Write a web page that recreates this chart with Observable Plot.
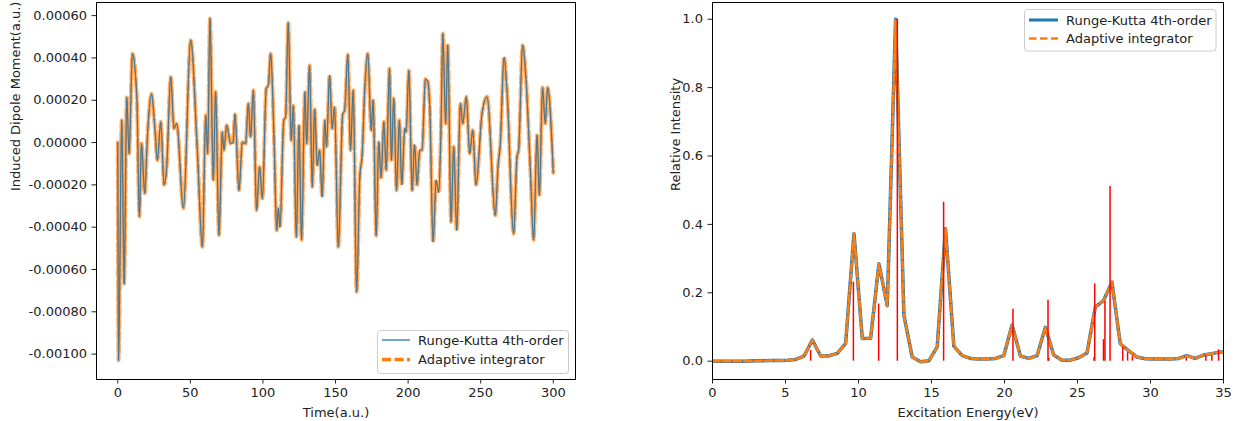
<!DOCTYPE html>
<html>
<head>
<meta charset="utf-8">
<script src="https://cdn.jsdelivr.net/npm/d3@7"></script>
<script src="https://cdn.jsdelivr.net/npm/@observablehq/plot@0.6"></script>
<style>
  body { margin: 0; background: #fff; }
  #wrap { position: relative; width: 1239px; height: 421px; font-family: "DejaVu Sans", sans-serif; overflow: hidden; }
  #left { position: absolute; left: 0; top: 0; }
  #right { position: absolute; left: 620px; top: 0; }
  #overlay { position: absolute; left: 0; top: 0; pointer-events: none; }
</style>
</head>
<body>
<div id="wrap">
  <div id="left"></div>
  <div id="right"></div>
  <svg id="overlay" width="1239" height="421" font-family="DejaVu Sans" font-size="13px">
    <rect x="377.5" y="330.5" width="191" height="43" rx="3" fill="#fff" fill-opacity="0.8" stroke="#ccc"/>
    <line x1="382" x2="410" y1="340" y2="340" stroke="#1f77b4" stroke-width="1.3"/>
    <line x1="382" x2="410" y1="359.5" y2="359.5" stroke="#ff7f0e" stroke-width="3.5" stroke-dasharray="9,3.5"/>
    <text x="418" y="340" dominant-baseline="central" fill="#222">Runge-Kutta 4th-order</text>
    <text x="418" y="359.5" dominant-baseline="central" fill="#222">Adaptive integrator</text>

    <rect x="1024.5" y="9.5" width="191.5" height="41.5" rx="3" fill="#fff" fill-opacity="0.8" stroke="#ccc"/>
    <line x1="1029" x2="1058" y1="20" y2="20" stroke="#1f77b4" stroke-width="3"/>
    <line x1="1029" x2="1058" y1="38.5" y2="38.5" stroke="#ff7f0e" stroke-width="2.5" stroke-dasharray="7.5,3.5"/>
    <text x="1066" y="20" dominant-baseline="central" fill="#222">Runge-Kutta 4th-order</text>
    <text x="1066" y="38.5" dominant-baseline="central" fill="#222">Adaptive integrator</text>
  </svg>
</div>
<script>
// ---------- Left panel: induced dipole moment vs time ----------
const timeAU = [0, 0.5, 2.75, 4.4, 6.2, 7.8, 10.1, 13.1, 14.9, 16.3, 18.6, 20.4, 23.2, 25.5, 27.3, 29.6, 31.9, 33.7, 36.5, 38.7, 40.6, 45.2, 50.2, 54.8, 58.3, 60.6, 61.9, 63.5, 65.8, 67.4, 69.7, 72.0, 73.1, 75.0, 77.8, 79.4, 80.7, 83.5, 85.8, 88.1, 89.9, 91.5, 93.4, 95.6, 97.7, 99.6, 102.3, 103.7, 105.3, 107.6, 109.5, 110.6, 111.7, 114.4, 115.6, 117.4, 119.5, 120.9, 123.0, 124.8, 126.6, 128.9, 130.1, 132.1, 134.0, 135.6, 137.4, 139.0, 140.8, 142.6, 143.8, 145.9, 147.7, 149.3, 151.9, 155.0, 156.2, 158.5, 160.3, 162.2, 164.5, 166.7, 168.4, 170.0, 172.2, 174.6, 175.9, 178.0, 179.8, 181.4, 183.3, 184.9, 187.2, 188.5, 190.1, 192.0, 194.0, 195.6, 197.7, 198.6, 200.5, 202.8, 204.4, 206.2, 208.0, 209.6, 211.9, 213.5, 214.9, 217.2, 219.3, 221.1, 222.7, 223.9, 225.9, 227.3, 229.6, 231.4, 233.5, 236.0, 237.6, 240.1, 242.4, 244.5, 246.8, 250.9, 254.4, 260.1, 261.9, 263.5, 266.1, 268.1, 272.7, 275.0, 276.1, 278.9, 281.2, 284.2, 286.5, 288.8, 290.4, 292.6, 294.5, 296.1, 300.0];
const dipoleRK4 = [0, -10.3e-4, 1.05e-4, -6.67e-4, 2.13e-4, -0.52e-4, 4.2e-4, 2.16e-4, -3.5e-4, -0.05e-4, -2.4e-4, 0.27e-4, 2.3e-4, 0.74e-4, -0.84e-4, 0.98e-4, -2.0e-4, -1.15e-4, 3.1e-4, 0.66e-4, 0.9e-4, -3.1e-4, 4.84e-4, -0.36e-4, -4.93e-4, 1.29e-4, -0.52e-4, 5.86e-4, -1.78e-4, 2.4e-4, -4.38e-4, 0.5e-4, -0.36e-4, 0.82e-4, -0.05e-4, 0, 1.34e-4, -2.26e-4, 0.02e-4, -0.05e-4, 1.84e-4, 0.27e-4, 2.47e-4, -3.2e-4, -1.15e-4, -2.65e-4, 2.55e-4, 2.7e-4, 4.2e-4, 0.27e-4, -4.15e-4, -3.1e-4, -4.0e-4, 1.07e-4, 1.2e-4, 5.66e-4, 0.1e-4, 1.74e-4, -4.46e-4, 0.82e-4, -4.6e-4, 2.4e-4, -0.05e-4, 3.65e-4, -2.1e-4, 1.58e-4, -1.1e-4, -0.36e-4, -2.57e-4, 1.05e-4, -0.2e-4, 3.18e-4, 0.66e-4, 1.69e-4, -4.93e-4, 1.36e-4, 1.5e-4, 4.15e-4, -0.36e-4, 2.47e-4, -7.06e-4, -1.67e-4, -0.52e-4, 2.3e-4, 4.2e-4, 0.58e-4, 2.0e-4, -4.4e-4, 0.02e-4, -1.67e-4, 0.98e-4, -1.3e-4, 3.5e-4, -0.84e-4, 2.08e-4, -2.26e-4, 1.05e-4, -2.0e-4, 0.66e-4, 0.5e-4, 3.4e-4, -2.26e-4, -0.1e-4, -2.0e-4, -0.36e-4, -0.36e-4, 3.0e-4, 2.9e-4, 1.7e-4, -4.7e-4, -1.78e-4, -2.35e-4, 0.9e-4, 5.15e-4, 0.9e-4, 4.6e-4, -3.75e-4, -0.2e-4, -4.15e-4, 1.84e-4, 0.9e-4, 2.16e-4, -0.52e-4, 0.58e-4, -2.0e-4, 1.36e-4, 2.16e-4, -3.44e-4, -1.15e-4, -0.05e-4, 4.03e-4, 2.47e-4, -4.3e-4, -0.68e-4, -0.36e-4, 4.6e-4, 3.0e-4, -1.3e-4, -4.6e-4, 0.35e-4, -2.5e-4, 2.6e-4, 0.9e-4, 2.6e-4, -1.43e-4];
const dipoleAdaptive = dipoleRK4.slice(); // the two integrators overlap at this scale
const timeTicks = [0, 50, 100, 150, 200, 250, 300];
const dipoleTicks = [-0.001, -0.0008, -0.0006, -0.0004, -0.0002, 0, 0.0002, 0.0004, 0.0006];

// ---------- Right panel: absorption spectrum ----------
const energyEV = [0.00, 0.57, 1.14, 1.71, 2.28, 2.85, 3.42, 3.99, 4.56, 5.13, 5.70, 6.27, 6.84, 7.41, 7.98, 8.55, 9.12, 9.69, 10.26, 10.83, 11.40, 11.97, 12.54, 13.11, 13.68, 14.25, 14.82, 15.39, 15.96, 16.53, 17.10, 17.67, 18.24, 18.81, 19.38, 19.95, 20.52, 21.09, 21.66, 22.23, 22.80, 23.37, 23.94, 24.51, 25.08, 25.65, 26.22, 26.79, 27.36, 27.93, 28.50, 29.07, 29.64, 30.21, 30.78, 31.35, 31.92, 32.49, 33.06, 33.63, 34.20, 34.77, 35.34];
const intensityRK4 = [0.000, 0.000, 0.000, 0.000, 0.000, 0.001, 0.001, 0.002, 0.002, 0.003, 0.005, 0.015, 0.062, 0.015, 0.016, 0.023, 0.052, 0.373, 0.066, 0.067, 0.285, 0.162, 1.000, 0.134, 0.012, -0.002, 0.001, 0.042, 0.387, 0.044, 0.016, 0.008, 0.006, 0.006, 0.008, 0.016, 0.106, 0.015, 0.008, 0.016, 0.099, 0.018, 0.003, 0.003, 0.010, 0.024, 0.158, 0.178, 0.231, 0.051, 0.031, 0.012, 0.007, 0.006, 0.006, 0.006, 0.008, 0.016, 0.008, 0.018, 0.022, 0.027, 0.027];
const intensityAdaptive = intensityRK4.slice();
const stickEnergy = [6.72, 9.65, 11.38, 12.66, 15.83, 20.58, 22.98, 23.03, 26.13, 26.18, 26.78, 26.88, 27.23, 28.10, 28.43, 28.76, 32.45, 33.79, 34.20, 34.66];
const stickIntensity = [0.031, 0.231, 0.167, 1.0, 0.465, 0.152, 0.178, 0.008, 0.01, 0.226, 0.063, 0.175, 0.511, 0.041, 0.025, 0.013, 0.008, 0.016, 0.016, 0.033];
const energyTicks = [0, 5, 10, 15, 20, 25, 30, 35];
const intensityTicks = [0, 0.2, 0.4, 0.6, 0.8, 1.0];

// ---------- build tables ----------
const dipole = timeAU.map((t, i) => ({t, rk: dipoleRK4[i], ad: dipoleAdaptive[i]}));
const spectrum = energyEV.map((e, i) => ({e, rk: intensityRK4[i], ad: intensityAdaptive[i]}));
const sticks = stickEnergy.map((e, i) => ({e, v: stickIntensity[i]}));

const baseStyle = {fontFamily: "DejaVu Sans", fontSize: "13px", color: "#222", background: "transparent", overflow: "visible"};

const left = Plot.plot({
  width: 620, height: 421,
  marginLeft: 96, marginRight: 45, marginTop: 2, marginBottom: 42,
  style: baseStyle,
  x: {domain: [-14.66, 315.3]},
  y: {domain: [-0.00112, 0.000662]},
  marks: [
    Plot.line(dipole, {x: "t", y: "rk", stroke: "#1f77b4", strokeWidth: 1.3, curve: "monotone-x"}),
    Plot.line(dipole, {x: "t", y: "ad", stroke: "#ff7f0e", strokeWidth: 4, strokeDasharray: "9,3.5", strokeOpacity: 0.65, curve: "monotone-x"}),
    Plot.line(dipole, {x: "t", y: "rk", stroke: "#1f77b4", strokeWidth: 1.0, strokeOpacity: 0.75, curve: "monotone-x"}),
    Plot.frame({stroke: "#000", strokeWidth: 1}),
    Plot.axisX({ticks: timeTicks, tickFormat: d => String(d), tickSize: 4.5, tickPadding: 4, label: null}),
    Plot.axisY({ticks: dipoleTicks, tickFormat: d => d.toFixed(5), tickSize: 4.5, tickPadding: 5, label: null}),
    Plot.text(["Time(a.u.)"], {frameAnchor: "bottom", dy: 33, lineAnchor: "middle", fill: "#222"}),
    Plot.text(["Induced Dipole Moment(a.u.)"], {frameAnchor: "left", dx: -81, rotate: -90, fill: "#222"})
  ]
});
document.getElementById("left").appendChild(left);

const right = Plot.plot({
  width: 619, height: 421,
  marginLeft: 92, marginRight: 16, marginTop: 2, marginBottom: 42,
  style: baseStyle,
  x: {domain: [0, 35]},
  y: {domain: [-0.0536, 1.049]},
  marks: [
    Plot.line(spectrum, {x: "e", y: "rk", stroke: "#1f77b4", strokeWidth: 3.5, clip: true}),
    Plot.line(spectrum, {x: "e", y: "ad", stroke: "#ff7f0e", strokeWidth: 2.6, strokeDasharray: "7.5,3", clip: true}),
    Plot.ruleX(sticks, {x: "e", y1: 0, y2: "v", stroke: "red", strokeWidth: 1.5}),
    Plot.frame({stroke: "#000", strokeWidth: 1}),
    Plot.axisX({ticks: energyTicks, tickFormat: d => String(d), tickSize: 4.5, tickPadding: 4, label: null}),
    Plot.axisY({ticks: intensityTicks, tickFormat: d => d.toFixed(1), tickSize: 4.5, tickPadding: 5, label: null}),
    Plot.text(["Excitation Energy(eV)"], {frameAnchor: "bottom", dy: 33, lineAnchor: "middle", fill: "#222"}),
    Plot.text(["Relative Intensity"], {frameAnchor: "left", dx: -37, rotate: -90, fill: "#222"})
  ]
});
document.getElementById("right").appendChild(right);
</script>
</body>
</html>
